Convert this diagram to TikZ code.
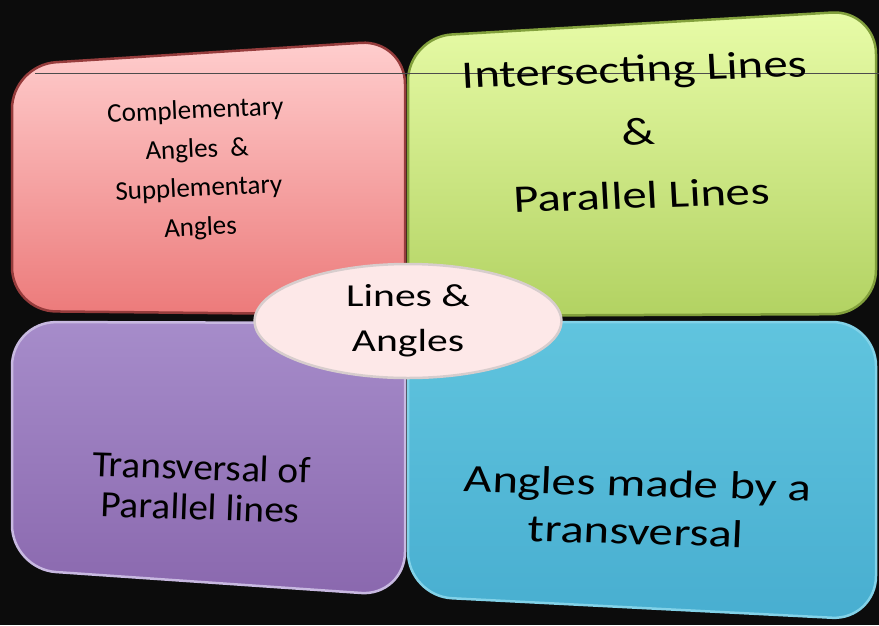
\documentclass[tikz,border=0pt]{standalone}
\usepackage{fontspec}
\setmainfont{Carlito}
\usetikzlibrary{shapes.geometric}
\definecolor{bgdark}{RGB}{12,12,12}
\definecolor{redtop}{RGB}{255,206,206}
\definecolor{redbot}{RGB}{236,122,122}
\definecolor{redrim}{RGB}{150,60,60}
\definecolor{greentop}{RGB}{232,252,168}
\definecolor{greenbot}{RGB}{178,210,98}
\definecolor{greenrim}{RGB}{130,160,60}
\definecolor{purpletop}{RGB}{166,140,202}
\definecolor{purplebot}{RGB}{138,104,174}
\definecolor{purplerim}{RGB}{200,185,225}
\definecolor{bluetop}{RGB}{96,196,222}
\definecolor{bluebot}{RGB}{72,174,208}
\definecolor{bluerim}{RGB}{130,210,232}
\definecolor{hubfill}{RGB}{253,232,232}
\definecolor{hubrim}{RGB}{215,205,205}

\begin{document}
\begin{tikzpicture}[x=1pt, y=-1pt,
    every node/.style={align=center, text=black},
    tile/.style={rounded corners=44pt, line width=2.5pt},
    redtile/.style={tile, draw=redrim, top color=redtop, bottom color=redbot},
    greentile/.style={tile, draw=greenrim, top color=greentop, bottom color=greenbot},
    purpletile/.style={tile, draw=purplerim, top color=purpletop, bottom color=purplebot},
    bluetile/.style={tile, draw=bluerim, top color=bluetop, bottom color=bluebot},
    small/.style={font=\fontsize{27}{39}\selectfont},
    big/.style={font=\fontsize{39}{63}\selectfont, xscale=1.25},
    mid/.style={font=\fontsize{37}{40}\selectfont},
    hub/.style={ellipse, draw=hubrim, line width=2.5pt, fill=hubfill, xscale=1.3,
      minimum width=236pt, minimum height=114pt, inner sep=0pt,
      font=\fontsize{32}{45}\selectfont}]

  \fill[bgdark] (0,0) rectangle (879,625);
  \useasboundingbox (0,0) rectangle (879,625);

  \shadedraw[redtile]    (12,65)  -- (405,40)  -- (405,315) -- (12,311)  -- cycle;
  \shadedraw[greentile]  (408,37) -- (876,10)  -- (876,314) -- (408,316) -- cycle;
  \shadedraw[purpletile] (12,322) -- (405,323) -- (405,596) -- (12,569)  -- cycle;
  \shadedraw[bluetile]   (408,322) -- (876,322) -- (876,620) -- (408,596) -- cycle;

  \coordinate (rulea) at (35,73);
  \coordinate (ruleb) at (879,73);
  \draw[gray!60!black, line width=0.6pt] (rulea) -- (ruleb);

  \node[small, rotate=2.5] (compl) at (198,170) {Complementary\\Angles \ \&\\Supplementary\\Angles};
  \node[big, rotate=2.5] (inter) at (638,132) {Intersecting Lines\\\&\\Parallel Lines};
  \node[mid, xscale=1.06, rotate=-2] (trans) at (201,487) {Transversal of\\Parallel lines};
  \node[big, font=\fontsize{39}{48}\selectfont, rotate=-2] (made) at (637,507) {Angles made by a\\transversal};

  \node[hub] (core) at (408,321) {Lines \&\\Angles};
\end{tikzpicture}
\end{document}
